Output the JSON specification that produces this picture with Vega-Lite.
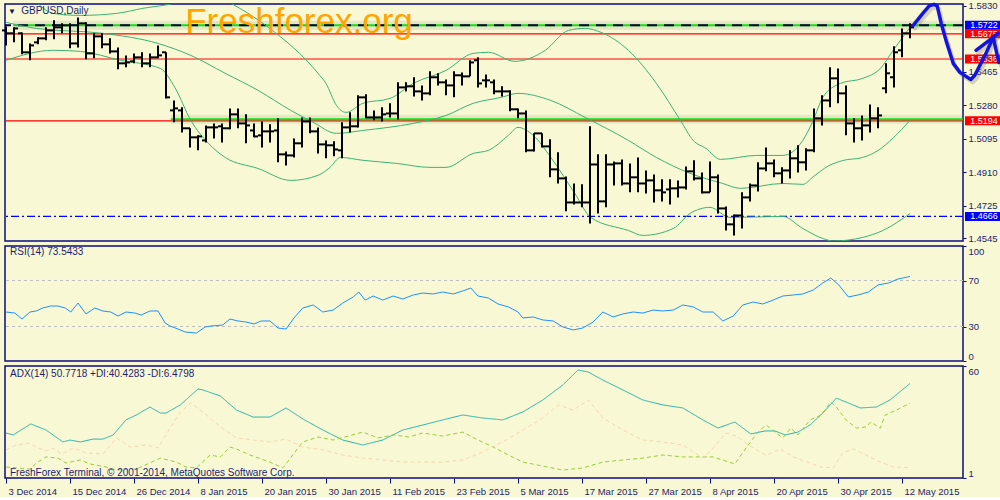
{
"$schema": "https://vega.github.io/schema/vega-lite/v6.json",
"padding": {"left": 1, "top": 0, "right": 0, "bottom": 0},
"background": "#F8F8D5",
"bounds": "flush",
"spacing": 5,
"resolve": {"scale": {"color": "independent", "strokeDash": "independent"}},
"datasets": {
"bars": [
{"i":0,"o":1.5694,"h":1.5716,"l":1.5611,"c":1.5678},{"i":1,"o":1.5678,"h":1.5711,"l":1.5628,"c":1.5705},{"i":2,"o":1.5678,"h":1.5683,"l":1.5562,"c":1.5573},{"i":3,"o":1.5573,"h":1.5622,"l":1.5529,"c":1.5611},{"i":4,"o":1.5628,"h":1.5656,"l":1.5617,"c":1.5650},{"i":5,"o":1.5650,"h":1.5711,"l":1.5639,"c":1.5694},{"i":6,"o":1.5694,"h":1.5750,"l":1.5645,"c":1.5711},{"i":7,"o":1.5711,"h":1.5733,"l":1.5678,"c":1.5722},{"i":8,"o":1.5722,"h":1.5733,"l":1.5595,"c":1.5622},{"i":9,"o":1.5622,"h":1.5766,"l":1.5600,"c":1.5733},
{"i":10,"o":1.5733,"h":1.5739,"l":1.5534,"c":1.5567},{"i":11,"o":1.5567,"h":1.5678,"l":1.5540,"c":1.5661},{"i":12,"o":1.5661,"h":1.5678,"l":1.5595,"c":1.5617},{"i":13,"o":1.5617,"h":1.5650,"l":1.5567,"c":1.5578},{"i":14,"o":1.5578,"h":1.5600,"l":1.5479,"c":1.5512},{"i":15,"o":1.5512,"h":1.5556,"l":1.5490,"c":1.5517},{"i":16,"o":1.5523,"h":1.5567,"l":1.5512,"c":1.5545},{"i":17,"o":1.5545,"h":1.5573,"l":1.5490,"c":1.5512},{"i":18,"o":1.5512,"h":1.5567,"l":1.5490,"c":1.5545},{"i":19,"o":1.5545,"h":1.5611,"l":1.5540,"c":1.5556},
{"i":20,"o":1.5573,"h":1.5573,"l":1.5318,"c":1.5324},{"i":21,"o":1.5252,"h":1.5307,"l":1.5186,"c":1.5263},{"i":22,"o":1.5252,"h":1.5269,"l":1.5130,"c":1.5153},{"i":23,"o":1.5153,"h":1.5153,"l":1.5047,"c":1.5103},{"i":24,"o":1.5103,"h":1.5114,"l":1.5031,"c":1.5108},{"i":25,"o":1.5086,"h":1.5169,"l":1.5075,"c":1.5158},{"i":26,"o":1.5158,"h":1.5180,"l":1.5097,"c":1.5158},{"i":27,"o":1.5164,"h":1.5180,"l":1.5075,"c":1.5153},{"i":28,"o":1.5153,"h":1.5263,"l":1.5147,"c":1.5230},{"i":29,"o":1.5230,"h":1.5263,"l":1.5153,"c":1.5180},
{"i":30,"o":1.5180,"h":1.5230,"l":1.5070,"c":1.5169},{"i":31,"o":1.5141,"h":1.5180,"l":1.5103,"c":1.5108},{"i":32,"o":1.5114,"h":1.5191,"l":1.5047,"c":1.5136},{"i":33,"o":1.5136,"h":1.5175,"l":1.5075,"c":1.5136},{"i":34,"o":1.5141,"h":1.5208,"l":1.4965,"c":1.5009},{"i":35,"o":1.5009,"h":1.5025,"l":1.4948,"c":1.5003},{"i":36,"o":1.5003,"h":1.5097,"l":1.4992,"c":1.5070},{"i":37,"o":1.5070,"h":1.5213,"l":1.5047,"c":1.5191},{"i":38,"o":1.5191,"h":1.5213,"l":1.5125,"c":1.5136},{"i":39,"o":1.5136,"h":1.5158,"l":1.5014,"c":1.5064},
{"i":40,"o":1.5064,"h":1.5086,"l":1.4987,"c":1.5059},{"i":41,"o":1.5059,"h":1.5081,"l":1.4998,"c":1.5036},{"i":42,"o":1.5031,"h":1.5186,"l":1.4987,"c":1.5158},{"i":43,"o":1.5158,"h":1.5241,"l":1.5130,"c":1.5164},{"i":44,"o":1.5164,"h":1.5335,"l":1.5158,"c":1.5324},{"i":45,"o":1.5324,"h":1.5341,"l":1.5208,"c":1.5213},{"i":46,"o":1.5213,"h":1.5252,"l":1.5197,"c":1.5213},{"i":47,"o":1.5213,"h":1.5269,"l":1.5191,"c":1.5230},{"i":48,"o":1.5235,"h":1.5291,"l":1.5213,"c":1.5235},{"i":49,"o":1.5235,"h":1.5407,"l":1.5202,"c":1.5379},
{"i":50,"o":1.5379,"h":1.5407,"l":1.5357,"c":1.5385},{"i":51,"o":1.5385,"h":1.5435,"l":1.5329,"c":1.5357},{"i":52,"o":1.5357,"h":1.5390,"l":1.5307,"c":1.5346},{"i":53,"o":1.5346,"h":1.5468,"l":1.5335,"c":1.5435},{"i":54,"o":1.5435,"h":1.5457,"l":1.5390,"c":1.5407},{"i":55,"o":1.5407,"h":1.5423,"l":1.5335,"c":1.5390},{"i":56,"o":1.5390,"h":1.5468,"l":1.5324,"c":1.5446},{"i":57,"o":1.5446,"h":1.5462,"l":1.5390,"c":1.5440},{"i":58,"o":1.5440,"h":1.5529,"l":1.5440,"c":1.5517},{"i":59,"o":1.5529,"h":1.5545,"l":1.5379,"c":1.5401},
{"i":60,"o":1.5418,"h":1.5451,"l":1.5379,"c":1.5418},{"i":61,"o":1.5407,"h":1.5423,"l":1.5341,"c":1.5357},{"i":62,"o":1.5357,"h":1.5385,"l":1.5329,"c":1.5357},{"i":63,"o":1.5357,"h":1.5363,"l":1.5247,"c":1.5258},{"i":64,"o":1.5258,"h":1.5263,"l":1.5208,"c":1.5235},{"i":65,"o":1.5235,"h":1.5252,"l":1.5020,"c":1.5031},{"i":66,"o":1.5031,"h":1.5125,"l":1.5025,"c":1.5125},{"i":67,"o":1.5125,"h":1.5125,"l":1.5047,"c":1.5053},{"i":68,"o":1.5053,"h":1.5092,"l":1.4882,"c":1.4926},{"i":69,"o":1.4926,"h":1.5020,"l":1.4848,"c":1.4876},
{"i":70,"o":1.4876,"h":1.4887,"l":1.4694,"c":1.4743},{"i":71,"o":1.4743,"h":1.4848,"l":1.4732,"c":1.4743},{"i":72,"o":1.4743,"h":1.4843,"l":1.4716,"c":1.4743},{"i":73,"o":1.4743,"h":1.5164,"l":1.4627,"c":1.4953},{"i":74,"o":1.4953,"h":1.5009,"l":1.4682,"c":1.4749},{"i":75,"o":1.4749,"h":1.5009,"l":1.4716,"c":1.4953},{"i":76,"o":1.4953,"h":1.4970,"l":1.4837,"c":1.4959},{"i":77,"o":1.4959,"h":1.4981,"l":1.4837,"c":1.4848},{"i":78,"o":1.4848,"h":1.4959,"l":1.4799,"c":1.4882},{"i":79,"o":1.4882,"h":1.4992,"l":1.4799,"c":1.4848},
{"i":80,"o":1.4848,"h":1.4920,"l":1.4793,"c":1.4865},{"i":81,"o":1.4865,"h":1.4898,"l":1.4743,"c":1.4810},{"i":82,"o":1.4810,"h":1.4871,"l":1.4749,"c":1.4799},{"i":83,"o":1.4815,"h":1.4871,"l":1.4732,"c":1.4821},{"i":84,"o":1.4821,"h":1.4865,"l":1.4771,"c":1.4826},{"i":85,"o":1.4826,"h":1.4942,"l":1.4815,"c":1.4915},{"i":86,"o":1.4915,"h":1.4976,"l":1.4865,"c":1.4876},{"i":87,"o":1.4876,"h":1.4909,"l":1.4793,"c":1.4799},{"i":88,"o":1.4799,"h":1.4970,"l":1.4799,"c":1.4882},{"i":89,"o":1.4882,"h":1.4898,"l":1.4682,"c":1.4710},
{"i":90,"o":1.4710,"h":1.4721,"l":1.4588,"c":1.4622},{"i":91,"o":1.4622,"h":1.4677,"l":1.4561,"c":1.4671},{"i":92,"o":1.4671,"h":1.4799,"l":1.4599,"c":1.4771},{"i":93,"o":1.4771,"h":1.4848,"l":1.4749,"c":1.4837},{"i":94,"o":1.4837,"h":1.4965,"l":1.4804,"c":1.4931},{"i":95,"o":1.4931,"h":1.5047,"l":1.4915,"c":1.4959},{"i":96,"o":1.4959,"h":1.4981,"l":1.4882,"c":1.4904},{"i":97,"o":1.4904,"h":1.4937,"l":1.4848,"c":1.4920},{"i":98,"o":1.4920,"h":1.5031,"l":1.4876,"c":1.4987},{"i":99,"o":1.4987,"h":1.5059,"l":1.4909,"c":1.4965},
{"i":100,"o":1.4965,"h":1.5042,"l":1.4920,"c":1.5031},{"i":101,"o":1.5031,"h":1.5263,"l":1.5020,"c":1.5208},{"i":102,"o":1.5208,"h":1.5335,"l":1.5169,"c":1.5307},{"i":103,"o":1.5307,"h":1.5490,"l":1.5269,"c":1.5429},{"i":104,"o":1.5429,"h":1.5484,"l":1.5291,"c":1.5346},{"i":105,"o":1.5346,"h":1.5390,"l":1.5114,"c":1.5180},{"i":106,"o":1.5180,"h":1.5208,"l":1.5075,"c":1.5153},{"i":107,"o":1.5153,"h":1.5224,"l":1.5086,"c":1.5169},{"i":108,"o":1.5169,"h":1.5285,"l":1.5130,"c":1.5208},{"i":109,"o":1.5208,"h":1.5269,"l":1.5153,"c":1.5224},
{"i":110,"o":1.5374,"h":1.5512,"l":1.5346,"c":1.5457},{"i":111,"o":1.5435,"h":1.5606,"l":1.5379,"c":1.5573},{"i":112,"o":1.5584,"h":1.5705,"l":1.5545,"c":1.5678},{"i":113,"o":1.5678,"h":1.5733,"l":1.5650,"c":1.5711}
],
"bb": [
{"b":"u","i":0,"p":1.5943},{"b":"u","i":3.4,"p":1.5860},{"b":"u","i":5.9,"p":1.5788},{"b":"u","i":9.3,"p":1.5777},{"b":"u","i":13.8,"p":1.5788},{"b":"u","i":17.1,"p":1.5816},{"b":"u","i":21.3,"p":1.5849},{"b":"u","i":24.6,"p":1.5915},{"b":"u","i":28.1,"p":1.5844},{"b":"u","i":32.8,"p":1.5711},{"b":"u","i":39,"p":1.5457},{"b":"u","i":40,"p":1.5401},{"b":"u","i":41.3,"p":1.5280},{"b":"u","i":42.5,"p":1.5241},{"b":"u","i":44.6,"p":1.5291},{"b":"u","i":48,"p":1.5318},{"b":"u","i":50.9,"p":1.5401},{"b":"u","i":55,"p":1.5473},{"b":"u","i":58.4,"p":1.5567},{"b":"u","i":60.3,"p":1.5573},{"b":"u","i":63.6,"p":1.5523},{"b":"u","i":67.4,"p":1.5584},{"b":"u","i":70.3,"p":1.5694},{"b":"u","i":72.4,"p":1.5705},{"b":"u","i":74.4,"p":1.5683},{"b":"u","i":77.8,"p":1.5584},{"b":"u","i":81.3,"p":1.5401},{"b":"u","i":84.3,"p":1.5197},{"b":"u","i":85.9,"p":1.5086},{"b":"u","i":87.5,"p":1.5042},{"b":"u","i":89.3,"p":1.4981},{"b":"u","i":93.8,"p":1.5003},{"b":"u","i":97.1,"p":1.5003},{"b":"u","i":99.6,"p":1.5086},{"b":"u","i":100.9,"p":1.5197},{"b":"u","i":102.1,"p":1.5324},{"b":"u","i":104.3,"p":1.5401},{"b":"u","i":107.1,"p":1.5429},{"b":"u","i":109.3,"p":1.5484},{"b":"u","i":110.9,"p":1.5584},{"b":"u","i":113,"p":1.5711},
{"b":"m","i":0,"p":1.5739},{"b":"m","i":3.8,"p":1.5705},{"b":"m","i":12.1,"p":1.5678},{"b":"m","i":19,"p":1.5622},{"b":"m","i":23.1,"p":1.5556},{"b":"m","i":27.4,"p":1.5457},{"b":"m","i":31.5,"p":1.5363},{"b":"m","i":35.6,"p":1.5252},{"b":"m","i":38.4,"p":1.5186},{"b":"m","i":41.3,"p":1.5125},{"b":"m","i":44.6,"p":1.5141},{"b":"m","i":50.9,"p":1.5180},{"b":"m","i":55,"p":1.5224},{"b":"m","i":58.4,"p":1.5291},{"b":"m","i":61.9,"p":1.5324},{"b":"m","i":64,"p":1.5346},{"b":"m","i":68.1,"p":1.5307},{"b":"m","i":72.4,"p":1.5213},{"b":"m","i":77.8,"p":1.5086},{"b":"m","i":81.3,"p":1.4992},{"b":"m","i":85.5,"p":1.4904},{"b":"m","i":89.6,"p":1.4848},{"b":"m","i":91.8,"p":1.4821},{"b":"m","i":97.1,"p":1.4848},{"b":"m","i":99.6,"p":1.4843},{"b":"m","i":100.9,"p":1.4885},{"b":"m","i":102.8,"p":1.4945},{"b":"m","i":104.6,"p":1.4975},{"b":"m","i":107.1,"p":1.4992},{"b":"m","i":109,"p":1.5030},{"b":"m","i":110.9,"p":1.5100},{"b":"m","i":113,"p":1.5197},
{"b":"l","i":0,"p":1.5529},{"b":"l","i":5.9,"p":1.5584},{"b":"l","i":9.3,"p":1.5578},{"b":"l","i":14.3,"p":1.5529},{"b":"l","i":19.3,"p":1.5484},{"b":"l","i":21.1,"p":1.5379},{"b":"l","i":23.1,"p":1.5197},{"b":"l","i":25.3,"p":1.5070},{"b":"l","i":27.4,"p":1.4992},{"b":"l","i":31.5,"p":1.4931},{"b":"l","i":35.6,"p":1.4865},{"b":"l","i":39,"p":1.4893},{"b":"l","i":40.5,"p":1.4937},{"b":"l","i":41.8,"p":1.4992},{"b":"l","i":44.6,"p":1.4976},{"b":"l","i":48.8,"p":1.4959},{"b":"l","i":53,"p":1.4937},{"b":"l","i":55,"p":1.4937},{"b":"l","i":58.4,"p":1.5014},{"b":"l","i":60.3,"p":1.5031},{"b":"l","i":62.8,"p":1.5114},{"b":"l","i":64,"p":1.5158},{"b":"l","i":65.9,"p":1.5114},{"b":"l","i":68.1,"p":1.4992},{"b":"l","i":71.1,"p":1.4793},{"b":"l","i":73.1,"p":1.4660},{"b":"l","i":77.8,"p":1.4588},{"b":"l","i":79.6,"p":1.4561},{"b":"l","i":83.4,"p":1.4599},{"b":"l","i":85.5,"p":1.4682},{"b":"l","i":88,"p":1.4716},{"b":"l","i":90.5,"p":1.4660},{"b":"l","i":97.1,"p":1.4666},{"b":"l","i":99.6,"p":1.4599},{"b":"l","i":102.1,"p":1.4544},{"b":"l","i":103.4,"p":1.4530},{"b":"l","i":107.1,"p":1.4550},{"b":"l","i":109.6,"p":1.4588},{"b":"l","i":113,"p":1.4682}
],
"tlines": [{"i0":0.9,"i1":119.6,"p":1.5722},{"i0":20.6,"i1":119.6,"p":1.5203}],
"redlines": [{"p":1.5675},{"p":1.5536},{"p":1.5194}],
"dashline": [{"p":1.5722}],
"dotline": [{"p":1.4666}],
"boxes": [{"p":1.5722,"t":"1.5722","k":"b"},{"p":1.5675,"t":"1.5675","k":"r"},{"p":1.5536,"t":"1.5536","k":"r"},{"p":1.5194,"t":"1.5194","k":"r"},{"p":1.4666,"t":"1.4666","k":"b"}],
"curve": [
{"s":"m","k":0,"i":113.4,"p":1.5722},{"s":"m","k":1,"i":114.6,"p":1.5788},{"s":"m","k":2,"i":115.4,"p":1.5830},{"s":"m","k":3,"i":116,"p":1.5838},{"s":"m","k":4,"i":116.4,"p":1.5830},{"s":"m","k":5,"i":116.9,"p":1.5733},{"s":"m","k":6,"i":117.5,"p":1.5639},{"s":"m","k":7,"i":118.4,"p":1.5512},{"s":"m","k":8,"i":119.25,"p":1.5462},{"s":"m","k":9,"i":120.6,"p":1.5423},{"s":"m","k":10,"i":121.1,"p":1.5446},{"s":"m","k":11,"i":122.5,"p":1.5567},{"s":"m","k":12,"i":123.4,"p":1.5656},{"s":"m","k":13,"i":124,"p":1.5678},
{"s":"a1","k":0,"i":123.4,"p":1.5656},{"s":"a1","k":1,"i":121.25,"p":1.5584},
{"s":"a2","k":0,"i":123.4,"p":1.5656},{"s":"a2","k":1,"i":124.1,"p":1.5517}
],
"rsi": [
{"i":0,"v":42.6},{"i":1.1,"v":41.7},{"i":2,"v":36.5},{"i":3,"v":42.6},{"i":3.8,"v":43.5},{"i":4.6,"v":46.1},{"i":5.6,"v":47.8},{"i":6.5,"v":47.8},{"i":7.4,"v":46.1},{"i":8.1,"v":42.6},{"i":9,"v":50.4},{"i":10,"v":40.9},{"i":11.1,"v":46.1},{"i":12.1,"v":43.5},{"i":13.1,"v":42.6},{"i":14,"v":39.1},{"i":15,"v":42.6},{"i":16.1,"v":41.7},{"i":16.9,"v":40.0},{"i":18,"v":43.5},{"i":19,"v":43.5},{"i":19.9,"v":33.0},{"i":20.5,"v":30.4},{"i":21.5,"v":27.8},{"i":22.4,"v":25.2},{"i":23.8,"v":24.3},{"i":24.9,"v":29.6},{"i":25.6,"v":30.4},{"i":27.1,"v":31.3},{"i":28,"v":36.5},{"i":29,"v":34.8},{"i":30,"v":33.9},{"i":31,"v":32.2},{"i":31.9,"v":34.8},{"i":33,"v":34.8},{"i":34,"v":28.7},{"i":35,"v":27.8},{"i":36.1,"v":38.3},{"i":37.1,"v":46.1},{"i":38.4,"v":48.7},{"i":39.6,"v":42.6},{"i":40.9,"v":44.3},{"i":42.1,"v":50.4},{"i":43.4,"v":55.7},{"i":44.1,"v":60.0},{"i":44.9,"v":53.0},{"i":45.9,"v":56.5},{"i":47.1,"v":53.0},{"i":48.4,"v":56.5},{"i":49.6,"v":53.9},{"i":50.9,"v":57.4},{"i":52.1,"v":59.1},{"i":53.4,"v":58.3},{"i":54.6,"v":60.0},{"i":55.9,"v":58.3},{"i":57.1,"v":60.9},{"i":58.1,"v":63.5},{"i":59,"v":56.5},{"i":60.3,"v":54.8},{"i":61.5,"v":49.6},{"i":62.8,"v":47.0},{"i":64,"v":42.6},{"i":64.6,"v":37.4},{"i":65.9,"v":38.3},{"i":67.1,"v":35.7},{"i":68.4,"v":34.8},{"i":69.6,"v":29.6},{"i":70.9,"v":27.0},{"i":72.1,"v":28.7},{"i":73.4,"v":33.9},{"i":74.6,"v":42.6},{"i":75.9,"v":38.3},{"i":77.1,"v":40.9},{"i":78.4,"v":42.6},{"i":79.6,"v":41.7},{"i":80.9,"v":44.3},{"i":82.1,"v":43.5},{"i":83.4,"v":44.3},{"i":84.6,"v":48.7},{"i":85.9,"v":47.0},{"i":87.1,"v":42.6},{"i":88.4,"v":42.6},{"i":89.6,"v":34.8},{"i":90.9,"v":39.1},{"i":92.1,"v":48.7},{"i":93.4,"v":51.3},{"i":94.6,"v":49.6},{"i":95.9,"v":53.0},{"i":97.1,"v":56.5},{"i":98.4,"v":57.4},{"i":99.6,"v":58.3},{"i":100.9,"v":61.7},{"i":102.1,"v":67.8},{"i":103.1,"v":72.2},{"i":104.1,"v":66.1},{"i":105.3,"v":55.7},{"i":106.5,"v":57.4},{"i":107.8,"v":60.0},{"i":109,"v":66.1},{"i":110.3,"v":67.8},{"i":111.5,"v":71.3},{"i":113,"v":73.5}
],
"adx": [
{"s":"ADX","i":0,"v":24.7},{"s":"ADX","i":0.9,"v":23.7},{"s":"ADX","i":3.1,"v":29.5},{"s":"ADX","i":5,"v":26.3},{"s":"ADX","i":7.1,"v":20.0},{"s":"ADX","i":8,"v":21.0},{"s":"ADX","i":9.3,"v":20.0},{"s":"ADX","i":10.9,"v":21.5},{"s":"ADX","i":12.1,"v":21.5},{"s":"ADX","i":13.4,"v":23.7},{"s":"ADX","i":15,"v":31.6},{"s":"ADX","i":16.3,"v":34.2},{"s":"ADX","i":18,"v":38.4},{"s":"ADX","i":19.3,"v":35.2},{"s":"ADX","i":20,"v":35.2},{"s":"ADX","i":21.8,"v":39.5},{"s":"ADX","i":24,"v":47.9},{"s":"ADX","i":24.6,"v":47.4},{"s":"ADX","i":26.8,"v":44.2},{"s":"ADX","i":28.8,"v":36.8},{"s":"ADX","i":30.9,"v":33.1},{"s":"ADX","i":33,"v":33.1},{"s":"ADX","i":35,"v":37.9},{"s":"ADX","i":37.1,"v":32.1},{"s":"ADX","i":39.6,"v":26.3},{"s":"ADX","i":42.1,"v":21.0},{"s":"ADX","i":44.6,"v":18.4},{"s":"ADX","i":47.1,"v":21.0},{"s":"ADX","i":49.6,"v":26.3},{"s":"ADX","i":52.1,"v":28.9},{"s":"ADX","i":54.6,"v":31.6},{"s":"ADX","i":57.1,"v":34.2},{"s":"ADX","i":59.6,"v":32.6},{"s":"ADX","i":62.1,"v":31.6},{"s":"ADX","i":64.6,"v":35.8},{"s":"ADX","i":67.1,"v":42.1},{"s":"ADX","i":69.6,"v":50.0},{"s":"ADX","i":71.5,"v":57.9},{"s":"ADX","i":72.8,"v":56.8},{"s":"ADX","i":74.6,"v":52.6},{"s":"ADX","i":77.1,"v":47.4},{"s":"ADX","i":79.6,"v":42.1},{"s":"ADX","i":82.1,"v":39.5},{"s":"ADX","i":84.6,"v":37.9},{"s":"ADX","i":87.1,"v":31.6},{"s":"ADX","i":89,"v":27.3},{"s":"ADX","i":91.1,"v":30.5},{"s":"ADX","i":93.1,"v":24.2},{"s":"ADX","i":94.9,"v":25.8},{"s":"ADX","i":96.1,"v":25.8},{"s":"ADX","i":97.4,"v":23.7},{"s":"ADX","i":99,"v":25.2},{"s":"ADX","i":100.5,"v":28.9},{"s":"ADX","i":102.1,"v":35.2},{"s":"ADX","i":103.8,"v":43.1},{"s":"ADX","i":106.8,"v":37.9},{"s":"ADX","i":108.8,"v":38.4},{"s":"ADX","i":110.5,"v":42.1},{"s":"ADX","i":113,"v":50.77},
{"s":"+DI","i":0,"v":6.8},{"s":"+DI","i":3,"v":5.7},{"s":"+DI","i":3.8,"v":8.9},{"s":"+DI","i":5,"v":12.1},{"s":"+DI","i":6.5,"v":11.5},{"s":"+DI","i":7.5,"v":8.9},{"s":"+DI","i":9.3,"v":10.5},{"s":"+DI","i":10.5,"v":8.4},{"s":"+DI","i":12.5,"v":6.8},{"s":"+DI","i":13.8,"v":5.2},{"s":"+DI","i":16.3,"v":5.7},{"s":"+DI","i":18.8,"v":10.5},{"s":"+DI","i":19.3,"v":11.5},{"s":"+DI","i":21.3,"v":9.4},{"s":"+DI","i":22.5,"v":6.8},{"s":"+DI","i":23.8,"v":6.3},{"s":"+DI","i":25.5,"v":13.1},{"s":"+DI","i":26.8,"v":12.1},{"s":"+DI","i":28,"v":17.3},{"s":"+DI","i":28.8,"v":16.3},{"s":"+DI","i":30.5,"v":13.1},{"s":"+DI","i":33,"v":9.4},{"s":"+DI","i":34.6,"v":6.3},{"s":"+DI","i":37.1,"v":20.0},{"s":"+DI","i":39,"v":22.6},{"s":"+DI","i":40.9,"v":21.0},{"s":"+DI","i":42.8,"v":23.1},{"s":"+DI","i":44.6,"v":25.2},{"s":"+DI","i":46.5,"v":22.1},{"s":"+DI","i":48.4,"v":23.7},{"s":"+DI","i":50.3,"v":22.6},{"s":"+DI","i":52.1,"v":24.7},{"s":"+DI","i":54.6,"v":23.1},{"s":"+DI","i":57.1,"v":25.2},{"s":"+DI","i":59,"v":21.0},{"s":"+DI","i":60.9,"v":17.3},{"s":"+DI","i":62.8,"v":13.1},{"s":"+DI","i":64.6,"v":9.4},{"s":"+DI","i":67.1,"v":7.3},{"s":"+DI","i":69.6,"v":5.2},{"s":"+DI","i":72.1,"v":6.3},{"s":"+DI","i":74.6,"v":9.4},{"s":"+DI","i":77.1,"v":10.5},{"s":"+DI","i":79.6,"v":11.5},{"s":"+DI","i":82.1,"v":13.1},{"s":"+DI","i":84.6,"v":12.1},{"s":"+DI","i":87.1,"v":12.1},{"s":"+DI","i":88.4,"v":12.1},{"s":"+DI","i":91.1,"v":8.4},{"s":"+DI","i":92.5,"v":16.8},{"s":"+DI","i":94,"v":25.2},{"s":"+DI","i":95,"v":28.9},{"s":"+DI","i":97.1,"v":22.1},{"s":"+DI","i":98.1,"v":27.3},{"s":"+DI","i":99,"v":23.7},{"s":"+DI","i":100.5,"v":31.6},{"s":"+DI","i":101.9,"v":34.2},{"s":"+DI","i":103.1,"v":41.0},{"s":"+DI","i":103.8,"v":38.4},{"s":"+DI","i":105,"v":31.6},{"s":"+DI","i":106.3,"v":27.3},{"s":"+DI","i":107.5,"v":27.9},{"s":"+DI","i":108.1,"v":30.5},{"s":"+DI","i":109.3,"v":27.3},{"s":"+DI","i":109.9,"v":34.2},{"s":"+DI","i":111.3,"v":36.8},{"s":"+DI","i":113,"v":40.43},
{"s":"-DI","i":0,"v":15.8},{"s":"-DI","i":1.3,"v":18.4},{"s":"-DI","i":2.8,"v":19.4},{"s":"-DI","i":3.8,"v":17.3},{"s":"-DI","i":5,"v":15.2},{"s":"-DI","i":5.9,"v":16.8},{"s":"-DI","i":6.9,"v":13.6},{"s":"-DI","i":8.4,"v":16.8},{"s":"-DI","i":10,"v":14.2},{"s":"-DI","i":12.1,"v":13.6},{"s":"-DI","i":13.8,"v":22.1},{"s":"-DI","i":15.5,"v":17.3},{"s":"-DI","i":17.5,"v":18.4},{"s":"-DI","i":19,"v":16.8},{"s":"-DI","i":20.5,"v":27.3},{"s":"-DI","i":21.8,"v":35.8},{"s":"-DI","i":23.1,"v":40.5},{"s":"-DI","i":24.6,"v":35.8},{"s":"-DI","i":26.8,"v":27.9},{"s":"-DI","i":28.8,"v":22.1},{"s":"-DI","i":30.9,"v":21.0},{"s":"-DI","i":33,"v":20.0},{"s":"-DI","i":35,"v":21.5},{"s":"-DI","i":37.1,"v":17.3},{"s":"-DI","i":39.6,"v":15.8},{"s":"-DI","i":42.1,"v":13.1},{"s":"-DI","i":44.6,"v":11.5},{"s":"-DI","i":47.1,"v":10.5},{"s":"-DI","i":49.6,"v":9.4},{"s":"-DI","i":52.1,"v":9.4},{"s":"-DI","i":54.6,"v":9.4},{"s":"-DI","i":57.1,"v":10.5},{"s":"-DI","i":59.6,"v":14.7},{"s":"-DI","i":62.1,"v":20.0},{"s":"-DI","i":64.6,"v":26.3},{"s":"-DI","i":67.1,"v":32.6},{"s":"-DI","i":69,"v":39.5},{"s":"-DI","i":70.9,"v":36.8},{"s":"-DI","i":72.8,"v":42.1},{"s":"-DI","i":74.6,"v":32.6},{"s":"-DI","i":77.1,"v":26.3},{"s":"-DI","i":79.6,"v":21.0},{"s":"-DI","i":82.1,"v":20.0},{"s":"-DI","i":84.6,"v":18.4},{"s":"-DI","i":87.1,"v":11.5},{"s":"-DI","i":88.4,"v":16.8},{"s":"-DI","i":90,"v":24.7},{"s":"-DI","i":91.3,"v":23.1},{"s":"-DI","i":92.5,"v":19.4},{"s":"-DI","i":93.8,"v":15.8},{"s":"-DI","i":95,"v":13.1},{"s":"-DI","i":96.8,"v":16.3},{"s":"-DI","i":98.4,"v":12.1},{"s":"-DI","i":100.5,"v":8.9},{"s":"-DI","i":101.8,"v":6.8},{"s":"-DI","i":103.4,"v":6.3},{"s":"-DI","i":104.6,"v":14.2},{"s":"-DI","i":105.9,"v":16.3},{"s":"-DI","i":107.5,"v":13.1},{"s":"-DI","i":109.3,"v":9.4},{"s":"-DI","i":110.9,"v":6.8},{"s":"-DI","i":113,"v":6.48}
]
},
"vconcat": [
{
"width": 958, "height": 237,
"layer": [
{"data": {"name": "redlines"}, "mark": {"type": "rule", "color": "#FF0000", "strokeWidth": 1.2},
 "encoding": {"y": {"field": "p", "type": "quantitative", "scale": {"domain": [1.453, 1.584], "nice": false, "zero": false},
   "axis": {"orient": "right", "values": [1.4545, 1.4725, 1.491, 1.5095, 1.528, 1.5465, 1.583], "tickCount": 30, "format": ".4f", "tickSize": 3, "labelPadding": 2, "labelFlush": false, "labelOverlap": false}}}},
{"data": {"name": "tlines"}, "mark": {"type": "rule", "color": "#6E6E50", "opacity": 0.12, "strokeWidth": 9},
 "encoding": {"x": {"field": "i0", "type": "quantitative", "scale": {"domain": [-0.125, 119.625], "nice": false, "zero": false}, "axis": null}, "x2": {"field": "i1"},
  "y": {"field": "p", "type": "quantitative", "scale": {"domain": [1.453, 1.584], "nice": false, "zero": false}}}},
{"data": {"name": "tlines"}, "mark": {"type": "rule", "color": "#12E012", "strokeWidth": 2},
 "encoding": {"x": {"field": "i0", "type": "quantitative", "scale": {"domain": [-0.125, 119.625], "nice": false, "zero": false}}, "x2": {"field": "i1"},
  "y": {"field": "p", "type": "quantitative", "scale": {"domain": [1.453, 1.584], "nice": false, "zero": false}}}},
{"data": {"name": "dashline"}, "mark": {"type": "rule", "color": "#000040", "strokeWidth": 2, "strokeDash": [10, 7]},
 "encoding": {"y": {"field": "p", "type": "quantitative", "scale": {"domain": [1.453, 1.584], "nice": false, "zero": false}}}},
{"data": {"name": "dotline"}, "mark": {"type": "rule", "color": "#0000FF", "strokeWidth": 1.3, "strokeDash": [8, 3, 2, 3]},
 "encoding": {"y": {"field": "p", "type": "quantitative", "scale": {"domain": [1.453, 1.584], "nice": false, "zero": false}}}},
{"data": {"name": "bb"}, "mark": {"type": "line", "color": "#3CB371", "strokeWidth": 1, "clip": true, "interpolate": "monotone"},
 "encoding": {"x": {"field": "i", "type": "quantitative", "scale": {"domain": [-0.125, 119.625], "nice": false, "zero": false}},
  "y": {"field": "p", "type": "quantitative", "scale": {"domain": [1.453, 1.584], "nice": false, "zero": false}},
  "detail": {"field": "b", "type": "nominal"}}},
{"data": {"name": "bars"}, "mark": {"type": "rule", "color": "#000000", "strokeWidth": 2},
 "encoding": {"x": {"field": "i", "type": "quantitative", "scale": {"domain": [-0.125, 119.625], "nice": false, "zero": false}},
  "y": {"field": "l", "type": "quantitative", "scale": {"domain": [1.453, 1.584], "nice": false, "zero": false}}, "y2": {"field": "h"}}},
{"data": {"name": "bars"}, "mark": {"type": "tick", "orient": "horizontal", "color": "#000000", "size": 4, "thickness": 2, "xOffset": -2, "opacity": 1},
 "encoding": {"x": {"field": "i", "type": "quantitative", "scale": {"domain": [-0.125, 119.625], "nice": false, "zero": false}},
  "y": {"field": "o", "type": "quantitative", "scale": {"domain": [1.453, 1.584], "nice": false, "zero": false}}}},
{"data": {"name": "bars"}, "mark": {"type": "tick", "orient": "horizontal", "color": "#000000", "size": 4, "thickness": 2, "xOffset": 2, "opacity": 1},
 "encoding": {"x": {"field": "i", "type": "quantitative", "scale": {"domain": [-0.125, 119.625], "nice": false, "zero": false}},
  "y": {"field": "c", "type": "quantitative", "scale": {"domain": [1.453, 1.584], "nice": false, "zero": false}}}},
{"data": {"values": [{}]}, "mark": {"type": "text", "font": "Liberation Sans", "fontSize": 35, "color": "#FFA500", "align": "left", "baseline": "alphabetic"},
 "encoding": {"x": {"datum": 22.4, "type": "quantitative", "scale": {"domain": [-0.125, 119.625], "nice": false, "zero": false}},
  "y": {"datum": 1.5678, "type": "quantitative", "scale": {"domain": [1.453, 1.584], "nice": false, "zero": false}}, "text": {"value": "Freshforex.org"}}},
{"data": {"values": [{}]}, "mark": {"type": "text", "font": "Liberation Sans", "fontSize": 10, "color": "#1E1E6E", "align": "left", "baseline": "middle"},
 "encoding": {"x": {"datum": 1.9, "type": "quantitative", "scale": {"domain": [-0.125, 119.625], "nice": false, "zero": false}},
  "y": {"datum": 1.5799, "type": "quantitative", "scale": {"domain": [1.453, 1.584], "nice": false, "zero": false}}, "text": {"value": "GBPUSD,Daily"}}},
{"data": {"values": [{}]}, "mark": {"type": "text", "font": "Liberation Sans", "fontSize": 8, "color": "#101050", "align": "center", "baseline": "middle"},
 "encoding": {"x": {"datum": 0.75, "type": "quantitative", "scale": {"domain": [-0.125, 119.625], "nice": false, "zero": false}},
  "y": {"datum": 1.5797, "type": "quantitative", "scale": {"domain": [1.453, 1.584], "nice": false, "zero": false}}, "text": {"value": "▼"}}},
{"data": {"name": "boxes"}, "mark": {"type": "tick", "orient": "horizontal", "size": 38, "thickness": 9, "clip": false, "opacity": 1},
 "encoding": {"x": {"datum": 122.25, "type": "quantitative", "scale": {"domain": [-0.125, 119.625], "nice": false, "zero": false}},
  "y": {"field": "p", "type": "quantitative", "scale": {"domain": [1.453, 1.584], "nice": false, "zero": false}},
  "color": {"field": "k", "type": "nominal", "scale": {"domain": ["b", "r"], "range": ["#0000FF", "#FF0000"]}, "legend": null}}},
{"data": {"name": "boxes"}, "mark": {"type": "text", "font": "Liberation Sans", "fontSize": 9, "color": "#FFFFFF", "align": "center", "baseline": "middle", "clip": false},
 "encoding": {"x": {"datum": 122.25, "type": "quantitative", "scale": {"domain": [-0.125, 119.625], "nice": false, "zero": false}},
  "y": {"field": "p", "type": "quantitative", "scale": {"domain": [1.453, 1.584], "nice": false, "zero": false}}, "text": {"field": "t"}}},
{"data": {"name": "curve"}, "mark": {"type": "line", "color": "#606060", "opacity": 0.25, "strokeWidth": 4, "clip": false, "xOffset": 2, "yOffset": 3, "strokeCap": "round", "strokeJoin": "round"},
 "encoding": {"x": {"field": "i", "type": "quantitative", "scale": {"domain": [-0.125, 119.625], "nice": false, "zero": false}},
  "y": {"field": "p", "type": "quantitative", "scale": {"domain": [1.453, 1.584], "nice": false, "zero": false}},
  "detail": {"field": "s", "type": "nominal"}, "order": {"field": "k", "type": "quantitative"}}},
{"data": {"name": "curve"}, "mark": {"type": "line", "color": "#1414E0", "strokeWidth": 3.5, "clip": false, "strokeCap": "round", "strokeJoin": "round"},
 "encoding": {"x": {"field": "i", "type": "quantitative", "scale": {"domain": [-0.125, 119.625], "nice": false, "zero": false}},
  "y": {"field": "p", "type": "quantitative", "scale": {"domain": [1.453, 1.584], "nice": false, "zero": false}},
  "detail": {"field": "s", "type": "nominal"}, "order": {"field": "k", "type": "quantitative"}}}
]
},
{
"width": 958, "height": 115,
"layer": [
{"data": {"values": [{"lv": 70}, {"lv": 30}]}, "mark": {"type": "rule", "color": "#C0C0C0", "strokeWidth": 1, "strokeDash": [3, 3]},
 "encoding": {"y": {"field": "lv", "type": "quantitative", "scale": {"domain": [0, 100], "nice": false, "zero": false},
  "axis": {"orient": "right", "values": [0, 30, 70, 100], "tickCount": 30, "tickSize": 3, "labelPadding": 2, "labelFlush": true, "labelOverlap": false}}}},
{"data": {"name": "rsi"}, "mark": {"type": "line", "color": "#1E90FF", "strokeWidth": 1},
 "encoding": {"x": {"field": "i", "type": "quantitative", "scale": {"domain": [-0.125, 119.625], "nice": false, "zero": false}, "axis": null},
  "y": {"field": "v", "type": "quantitative", "scale": {"domain": [0, 100], "nice": false, "zero": false}}}},
{"data": {"values": [{}]}, "mark": {"type": "text", "font": "Liberation Sans", "fontSize": 10, "color": "#1E1E6E", "align": "left", "baseline": "middle"},
 "encoding": {"x": {"datum": 0.5, "type": "quantitative", "scale": {"domain": [-0.125, 119.625], "nice": false, "zero": false}},
  "y": {"datum": 94.4, "type": "quantitative", "scale": {"domain": [0, 100], "nice": false, "zero": false}}, "text": {"value": "RSI(14) 73.5433"}}}
]
},
{
"width": 958, "height": 112,
"layer": [
{"data": {"name": "adx"}, "mark": {"type": "line", "strokeWidth": 1},
 "encoding": {"x": {"field": "i", "type": "quantitative", "scale": {"domain": [-0.125, 119.625], "nice": false, "zero": false},
   "axis": {"orient": "bottom", "values": [0, 8, 16, 24, 32, 40, 48, 56, 64, 72, 80, 88, 96, 104, 112], "tickCount": 40, "labelAlign": "left", "labelOffset": 2, "labelBaseline": "top", "tickSize": 5, "labelPadding": 3, "labelFlush": false, "labelOverlap": false,
    "labelExpr": "['3 Dec 2014','15 Dec 2014','26 Dec 2014','8 Jan 2015','20 Jan 2015','30 Jan 2015','11 Feb 2015','23 Feb 2015','5 Mar 2015','17 Mar 2015','27 Mar 2015','8 Apr 2015','20 Apr 2015','30 Apr 2015','12 May 2015'][round(datum.value/8)]"}},
  "y": {"field": "v", "type": "quantitative", "scale": {"domain": [1, 60], "nice": false, "zero": false},
   "axis": {"orient": "right", "values": [1, 60], "tickCount": 30, "tickSize": 3, "labelPadding": 2, "labelFlush": true, "labelOverlap": false}},
  "color": {"field": "s", "type": "nominal", "scale": {"domain": ["ADX", "+DI", "-DI"], "range": ["#20B2AA", "#9ACD32", "#F5D7B0"]}, "legend": null},
  "strokeDash": {"field": "s", "type": "nominal", "scale": {"domain": ["ADX", "+DI", "-DI"], "range": [[1, 0], [4, 3], [4, 3]]}, "legend": null}}},
{"data": {"values": [{}]}, "mark": {"type": "text", "font": "Liberation Sans", "fontSize": 10, "color": "#1E1E6E", "align": "left", "baseline": "middle"},
 "encoding": {"x": {"datum": 0.5, "type": "quantitative", "scale": {"domain": [-0.125, 119.625], "nice": false, "zero": false}},
  "y": {"datum": 55.6, "type": "quantitative", "scale": {"domain": [1, 60], "nice": false, "zero": false}}, "text": {"value": "ADX(14) 50.7718 +DI:40.4283 -DI:6.4798"}}},
{"data": {"values": [{}]}, "mark": {"type": "text", "font": "Liberation Sans", "fontSize": 10, "color": "#1E1E6E", "align": "left", "baseline": "middle"},
 "encoding": {"x": {"datum": 0.5, "type": "quantitative", "scale": {"domain": [-0.125, 119.625], "nice": false, "zero": false}},
  "y": {"datum": 3.4, "type": "quantitative", "scale": {"domain": [1, 60], "nice": false, "zero": false}}, "text": {"value": "FreshForex Terminal, © 2001-2014, MetaQuotes Software Corp."}}}
]
}
],
"config": {
"background": "#F8F8D5",
"view": {"stroke": "#0B0B80", "strokeWidth": 1.5, "fill": "#F8F8D5"},
"axis": {"labelFont": "Liberation Sans", "labelFontSize": 9.5, "labelColor": "#1E1E6E", "tickColor": "#0B0B80", "domain": false, "grid": false, "title": null, "labelOverlap": false, "labelBound": false},
"concat": {"spacing": 5}
}
}
